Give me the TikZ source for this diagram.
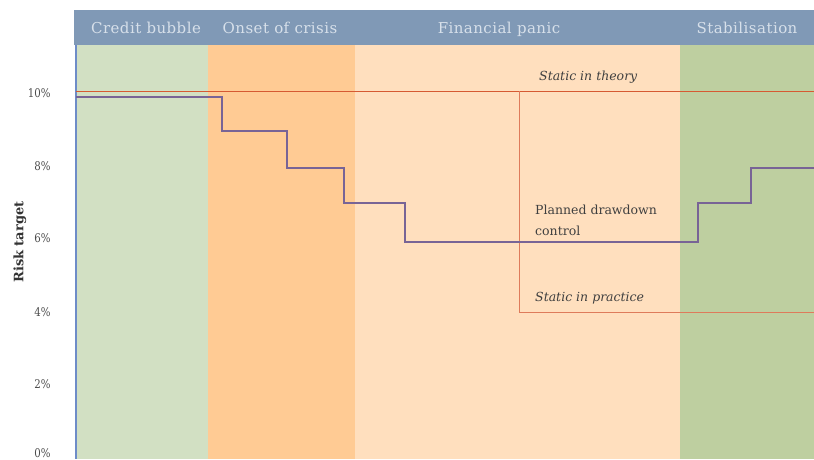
\documentclass[tikz,border=0pt]{standalone}
\usepackage{fontspec}
\setmainfont{DejaVu Serif}
\newfontfamily\hdrfont[LetterSpace=3]{DejaVu Serif}
\newfontfamily\tickfont[FakeStretch=0.85]{DejaVu Serif}
\begin{document}
\begin{tikzpicture}[x=1pt,y=-1pt,
  hdr/.style={font=\hdrfont\fontsize{15}{16}\selectfont, text=hdrtext, anchor=base},
  tick/.style={font=\tickfont\fontsize{12}{13}\selectfont, text=black!70, anchor=east},
  lbl/.style={font=\fontsize{12.5}{21}\selectfont, text=black!75, anchor=base west, align=left, inner sep=0pt}]
\definecolor{hdrblue}{RGB}{128,153,182}
\definecolor{hdrtext}{RGB}{215,224,234}
\definecolor{greenA}{RGB}{210,224,195}
\definecolor{orangeB}{RGB}{255,203,148}
\definecolor{peachC}{RGB}{255,223,190}
\definecolor{greenD}{RGB}{190,207,160}
\definecolor{redline}{RGB}{214,90,50}
\definecolor{purpline}{RGB}{120,100,150}
\definecolor{axisblue}{RGB}{110,140,200}
\useasboundingbox (0,0) rectangle (814,459);
\fill[white] (0,0) rectangle (814,459);
% columns
\fill[greenA] (76,45) rectangle (208,459);
\fill[orangeB] (208,45) rectangle (355,459);
\fill[peachC] (355,45) rectangle (680,459);
\fill[greenD] (680,45) rectangle (814,459);
% header
\fill[hdrblue] (74,10) rectangle (814,45);
\node[hdr] (h1) at (146,33) {Credit bubble};
\node[hdr] (h2) at (280,33) {Onset of crisis};
\node[hdr] (h3) at (499,33) {Financial panic};
\node[hdr] (h4) at (747,33) {Stabilisation};
% axis
\draw[axisblue, line width=1.2pt] (76,45) -- (76,459);
\node[tick] (t10) at (54,93) {10\%};
\node[tick] (t8) at (54,166) {8\%};
\node[tick] (t6) at (54,238) {6\%};
\node[tick] (t4) at (54,312) {4\%};
\node[tick] (t2) at (54,384) {2\%};
\node[tick] (t0) at (54,453) {0\%};
\node[font=\fontsize{13}{14}\selectfont\bfseries, text=black!80, rotate=90] (yl) at (20,242) {Risk target};
% lines
\draw[redline, line width=0.8pt] (76,91) -- (814,91);
\draw[redline!80, line width=1pt] (519,91) -- (519,312) -- (814,312);
\draw[purpline, line width=1.6pt] (76,97) -- (222,97) -- (222,131) -- (287,131) -- (287,168) -- (344,168) -- (344,203) -- (405,203) -- (405,242) -- (698,242) -- (698,203) -- (751,203) -- (751,168) -- (814,168);
% labels
\node[lbl, font=\fontsize{12.5}{14}\selectfont\itshape] (l1) at (539,80) {Static in theory};
\node[lbl] (l2) at (535,235) {Planned drawdown\\control};
\node[lbl, font=\fontsize{12.5}{14}\selectfont\itshape] (l3) at (535,301) {Static in practice};
\end{tikzpicture}
\end{document}
